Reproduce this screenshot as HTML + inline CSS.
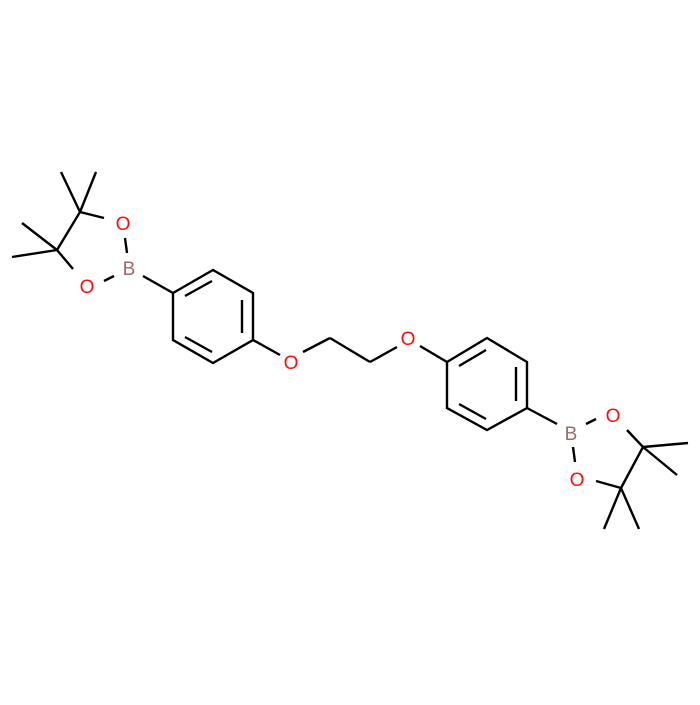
<!DOCTYPE html>
<html><head><style>html,body{margin:0;padding:0;background:#fff}</style></head>
<body>
<svg width="700" height="700" viewBox="0 0 700 700" xmlns="http://www.w3.org/2000/svg">
<g stroke="#000" stroke-width="2.4" fill="none" stroke-linecap="butt">
<!-- left pinacol -->
<line x1="61" y1="172" x2="80" y2="212"/>
<line x1="96" y1="172" x2="80" y2="212"/>
<line x1="80" y1="212" x2="104" y2="218"/>
<line x1="80" y1="212" x2="57" y2="250"/>
<line x1="22" y1="223" x2="57" y2="250"/>
<line x1="12" y1="257" x2="57" y2="250"/>
<line x1="57" y1="250" x2="73" y2="269"/>
<line x1="125" y1="238" x2="127" y2="253"/>
<line x1="104" y1="281" x2="114" y2="276"/>
<line x1="143" y1="276" x2="173" y2="293"/>
<!-- left ring -->
<polygon points="173,293 213,270 253,293 253,340 213,363 173,340"/>
<line x1="185" y1="296" x2="212" y2="281"/>
<line x1="242" y1="300" x2="242" y2="333"/>
<line x1="185" y1="337" x2="212" y2="352"/>
<line x1="253" y1="340" x2="280" y2="355"/>
<line x1="303" y1="352" x2="330" y2="338"/>
<line x1="330" y1="338" x2="370" y2="362"/>
<line x1="370" y1="362" x2="397" y2="347"/>
<line x1="420" y1="346" x2="447" y2="362"/>
<!-- right ring -->
<polygon points="447,362 487,338 527,362 527,408 487,430 447,408"/>
<line x1="459" y1="366" x2="486" y2="350"/>
<line x1="516" y1="367" x2="516" y2="401"/>
<line x1="459" y1="404" x2="486" y2="419"/>
<line x1="527" y1="408" x2="557" y2="424"/>
<line x1="586" y1="424" x2="596" y2="419"/>
<line x1="573" y1="447" x2="575" y2="462"/>
<line x1="627" y1="430" x2="643" y2="447"/>
<line x1="596" y1="481" x2="621" y2="488"/>
<line x1="643" y1="447" x2="621" y2="488"/>
<line x1="643" y1="447" x2="688" y2="443"/>
<line x1="643" y1="447" x2="677" y2="475"/>
<line x1="621" y1="488" x2="604" y2="529"/>
<line x1="621" y1="488" x2="639" y2="529"/>
</g>
<g font-family="Liberation Sans, sans-serif" font-size="19" text-anchor="middle">
<text x="123" y="230" fill="#ff0d0d">O</text>
<text x="87" y="293" fill="#ff0d0d">O</text>
<text x="129" y="275" fill="#a06868">B</text>
<text x="291" y="369" fill="#ff0d0d">O</text>
<text x="408" y="345" fill="#ff0d0d">O</text>
<text x="571" y="440" fill="#a06868">B</text>
<text x="613" y="422" fill="#ff0d0d">O</text>
<text x="577" y="486" fill="#ff0d0d">O</text>
</g>
</svg>
</body></html>
